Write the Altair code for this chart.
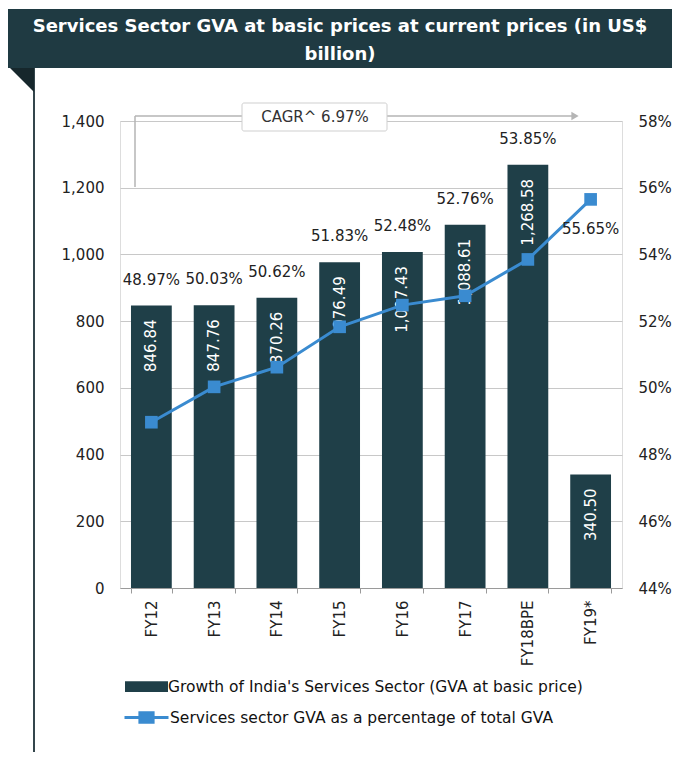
import altair as alt
import pandas as pd

# ---------------- data ----------------
years = ["FY12", "FY13", "FY14", "FY15", "FY16", "FY17", "FY18BPE", "FY19*"]
gva = [846.84, 847.76, 870.26, 976.49, 1007.43, 1088.61, 1268.58, 340.50]
gva_text = ["846.84", "847.76", "870.26", "976.49", "1,007.43", "1,088.61", "1,268.58", "340.50"]
share = [48.97, 50.03, 50.62, 51.83, 52.48, 52.76, 53.85, 55.65]
share_text = ["48.97%", "50.03%", "50.62%", "51.83%", "52.48%", "52.76%", "53.85%", "55.65%"]
left_ticks = [0, 200, 400, 600, 800, 1000, 1200, 1400]
right_ticks = [44, 46, 48, 50, 52, 54, 56, 58]
title_lines = ["Services Sector GVA at basic prices at current prices (in US$", "billion)"]
cagr_text = "CAGR^ 6.97%"
bar_series = "Growth of India's Services Sector (GVA at basic price)"
line_series = "Services sector GVA as a percentage of total GVA"

df = pd.DataFrame({
    "yr": years, "gva": gva, "gva_text": gva_text,
    "share": share, "share_text": share_text,
    "bar_series": [bar_series] * len(years),
    "line_series": [line_series] * len(years),
})
one = pd.DataFrame({"k": [0]})

FONT = "DejaVu Sans"
DARK = "#1f3f48"
BAND = "#1f3a42"
BLUE = "#3a8bd0"
GREY = "#b5b5b5"

base = alt.Chart(df)
xenc = alt.X("yr:N", sort=years,
             scale=alt.Scale(paddingInner=0.35, paddingOuter=0.175),
             axis=alt.Axis(title=None, labelAngle=-90, tickBand="extent", grid=False,
                           domainColor="#9a9a9a", tickColor="#9a9a9a", tickSize=5,
                           labelPadding=7, labelFontSize=15, labelColor="#222"))

bars = base.mark_bar(color=DARK).encode(
    x=xenc,
    y=alt.Y("gva:Q", scale=alt.Scale(domain=[0, 1400], nice=False),
            axis=alt.Axis(title=None, values=left_ticks, format=",.0f", ticks=False, domain=False,
                          grid=True, gridColor="#c8c8c8", labelPadding=16,
                          labelFontSize=15, labelColor="#222")),
    color=alt.Color("bar_series:N", scale=alt.Scale(domain=[bar_series], range=[DARK]),
                    legend=alt.Legend(orient="none", legendX=5, legendY=544, title=None,
                                      symbolType="M-1,-0.25L1,-0.25L1,0.25L-1,0.25Z",
                                      symbolSize=1849, symbolStrokeWidth=0,
                                      labelFontSize=15.5, labelColor="#111", labelFont=FONT,
                                      labelOffset=0, labelLimit=0, padding=0)),
)
bar_lbl = base.mark_text(angle=270, align="right", baseline="middle", dx=-14,
                         color="white", fontSize=15, font=FONT).encode(
    x=alt.X("yr:N", sort=years), y="gva:Q", text="gva_text:N")
pct_lbl = base.transform_filter(alt.datum.yr != "FY19*").mark_text(
    dy=-26, fontSize=15, color="#222", font=FONT).encode(
    x=alt.X("yr:N", sort=years), y="gva:Q", text="share_text:N")
left = alt.layer(bars, bar_lbl, pct_lbl)

line = base.mark_line(strokeWidth=3, point=alt.OverlayMarkDef(shape="square", size=160, filled=True)).encode(
    x=alt.X("yr:N", sort=years),
    y=alt.Y("share:Q", scale=alt.Scale(domain=[44, 58], nice=False, zero=False),
            axis=alt.Axis(title=None, orient="right", values=right_ticks,
                          labelExpr="datum.value + '%'", ticks=False, domain=False, grid=False,
                          labelPadding=16, labelFontSize=15, labelColor="#222")),
    color=alt.Color("line_series:N", scale=alt.Scale(domain=[line_series], range=[BLUE]),
                    legend=alt.Legend(orient="none", legendX=3, legendY=573, title=None,
                                      symbolType="M-1,0L1,0M-0.3,-0.22L0.3,-0.22L0.3,0.22L-0.3,0.22Z",
                                      symbolSize=1936, symbolStrokeWidth=3,
                                      symbolFillColor=BLUE, symbolStrokeColor=BLUE,
                                      labelFontSize=15.5, labelColor="#111", labelFont=FONT,
                                      labelOffset=0, labelLimit=0, padding=0)),
)
fy19_lbl = base.transform_filter(alt.datum.yr == "FY19*").mark_text(
    dy=30, fontSize=15, color="#222", font=FONT).encode(
    x=alt.X("yr:N", sort=years), y="share:Q", text="share_text:N")
right = alt.layer(line, fy19_lbl)

# ---------------- decorations ----------------
deco = alt.Chart(one)
band = deco.mark_rect(color=BAND).encode(
    x=alt.value(-112), x2=alt.value(552), y=alt.value(-112), y2=alt.value(-53))
border = deco.mark_rule(color="#34464c", strokeWidth=2).encode(
    x=alt.value(-86), y=alt.value(-53), y2=alt.value(640))
corner = deco.mark_point(shape="M-1,-1L1,-1L1,1Z", size=576, filled=True,
                         color="#16272c", opacity=1).encode(x=alt.value(-98), y=alt.value(-41))
t1 = deco.mark_text(font=FONT, fontSize=18, fontWeight="bold", color="white").encode(
    x=alt.value(220), y=alt.value(-94), text=alt.value(title_lines[0]))
t2 = deco.mark_text(font=FONT, fontSize=18, fontWeight="bold", color="white").encode(
    x=alt.value(220), y=alt.value(-66), text=alt.value(title_lines[1]))
br_v = deco.mark_rule(color=GREY, strokeWidth=1.5).encode(
    x=alt.value(15), y=alt.value(-5), y2=alt.value(66))
br_h = deco.mark_rule(color=GREY, strokeWidth=1.5).encode(
    x=alt.value(15), x2=alt.value(452), y=alt.value(-5))
arrow = deco.mark_point(shape="triangle-right", size=70, filled=True, color=GREY, opacity=1).encode(
    x=alt.value(455), y=alt.value(-5))
box = deco.mark_rect(fill="white", stroke="#cfcfcf", strokeWidth=1, cornerRadius=2).encode(
    x=alt.value(122), x2=alt.value(267), y=alt.value(-18), y2=alt.value(10))
cagr = deco.mark_text(font=FONT, fontSize=15, color="#333").encode(
    x=alt.value(195), y=alt.value(-4), text=alt.value(cagr_text))

chart = alt.layer(
    band, border, corner, t1, t2, left, right, br_v, br_h, arrow, box, cagr
).resolve_scale(y="independent", color="independent").properties(
    width=502, height=467,
    autosize=alt.AutoSizeParams(type="none"),
    padding={"left": 112, "top": 113, "right": 54, "bottom": 164},
    background="white",
).configure_view(strokeWidth=0).configure(font=FONT)

chart.save("out.html", embed_options={"renderer": "svg", "actions": False})
